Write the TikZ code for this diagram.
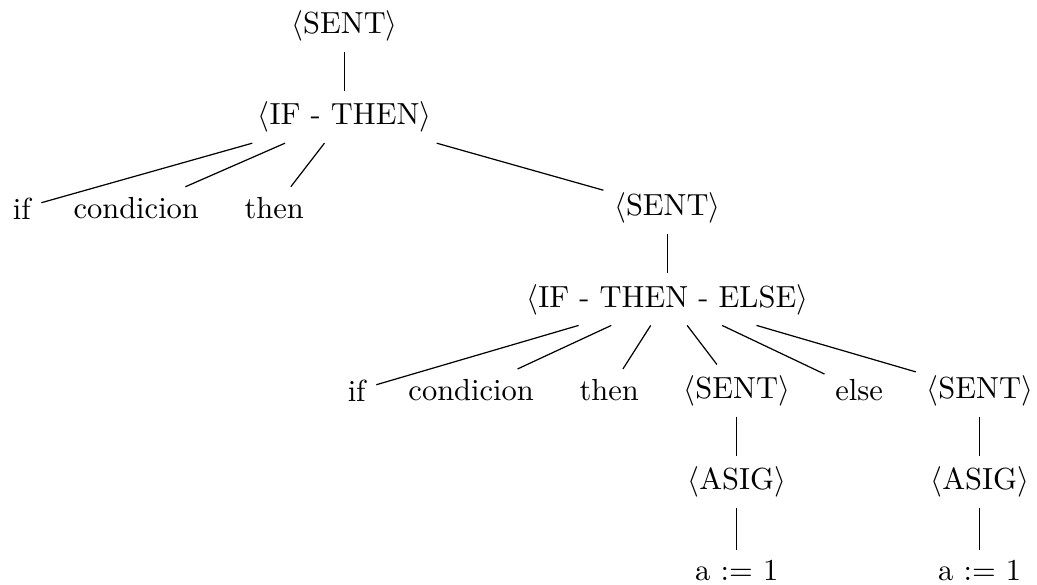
\documentclass[tikz,border=0pt]{standalone}
\usepackage{amsmath}
\usepackage{tikz}
\newcommand{\nt}[1]{$\langle$#1$\rangle$}

\begin{document}
\begin{tikzpicture}[
  sym/.style={inner sep=0.3333em},
  link/.style={line width=0.4pt},
]
\useasboundingbox (-3.97,0.30) rectangle (7.98,-6.43);

% =====================================================================
% TOP: SENT -> IF - THEN
% =====================================================================
\node[sym] (root)   at (0,0)     {\nt{SENT}};
\node[sym] (ifthen) at (0,-1.05) {\nt{IF - THEN}};

\node[sym] (ifA)   at (-3.72,-2.10) {if};
\node[sym] (condA) at (-2.40,-2.10) {condicion};
\node[sym] (thenA) at (-0.81,-2.10) {then};
\node[sym] (sentA) at (3.72,-2.10)  {\nt{SENT}};

\draw[link] (root) -- (ifthen);
\draw[link] (ifthen) -- (ifA);
\draw[link] (ifthen) -- (condA);
\draw[link] (ifthen) -- (thenA);
\draw[link] (ifthen) -- (sentA);

% =====================================================================
% MIDDLE: IF - THEN - ELSE and its six children
% =====================================================================
\node[sym] (ifte) at (3.72,-3.15) {\nt{IF - THEN - ELSE}};

\node[sym] (ifB)   at (0.14,-4.20) {if};
\node[sym] (condB) at (1.46,-4.20) {condicion};
\node[sym] (thenB) at (3.05,-4.20) {then};
\node[sym] (sentB) at (4.52,-4.20) {\nt{SENT}};
\node[sym] (elseB) at (5.93,-4.20) {else};
\node[sym] (sentC) at (7.32,-4.20) {\nt{SENT}};

\draw[link] (sentA) -- (ifte);
\draw[link] (ifte) -- (ifB);
\draw[link] (ifte) -- (condB);
\draw[link] (ifte) -- (thenB);
\draw[link] (ifte) -- (sentB);
\draw[link] (ifte) -- (elseB);
\draw[link] (ifte) -- (sentC);

% =====================================================================
% BOTTOM: the two assignments
% =====================================================================
\node[sym] (asigB) at (4.52,-5.25) {\nt{ASIG}};
\node[sym] (asigC) at (7.32,-5.25) {\nt{ASIG}};
\node[sym] (valB)  at (4.52,-6.28) {a := 1};
\node[sym] (valC)  at (7.32,-6.28) {a := 1};

\draw[link] (sentB) -- (asigB);
\draw[link] (asigB) -- (valB);
\draw[link] (sentC) -- (asigC);
\draw[link] (asigC) -- (valC);

\end{tikzpicture}
\end{document}
